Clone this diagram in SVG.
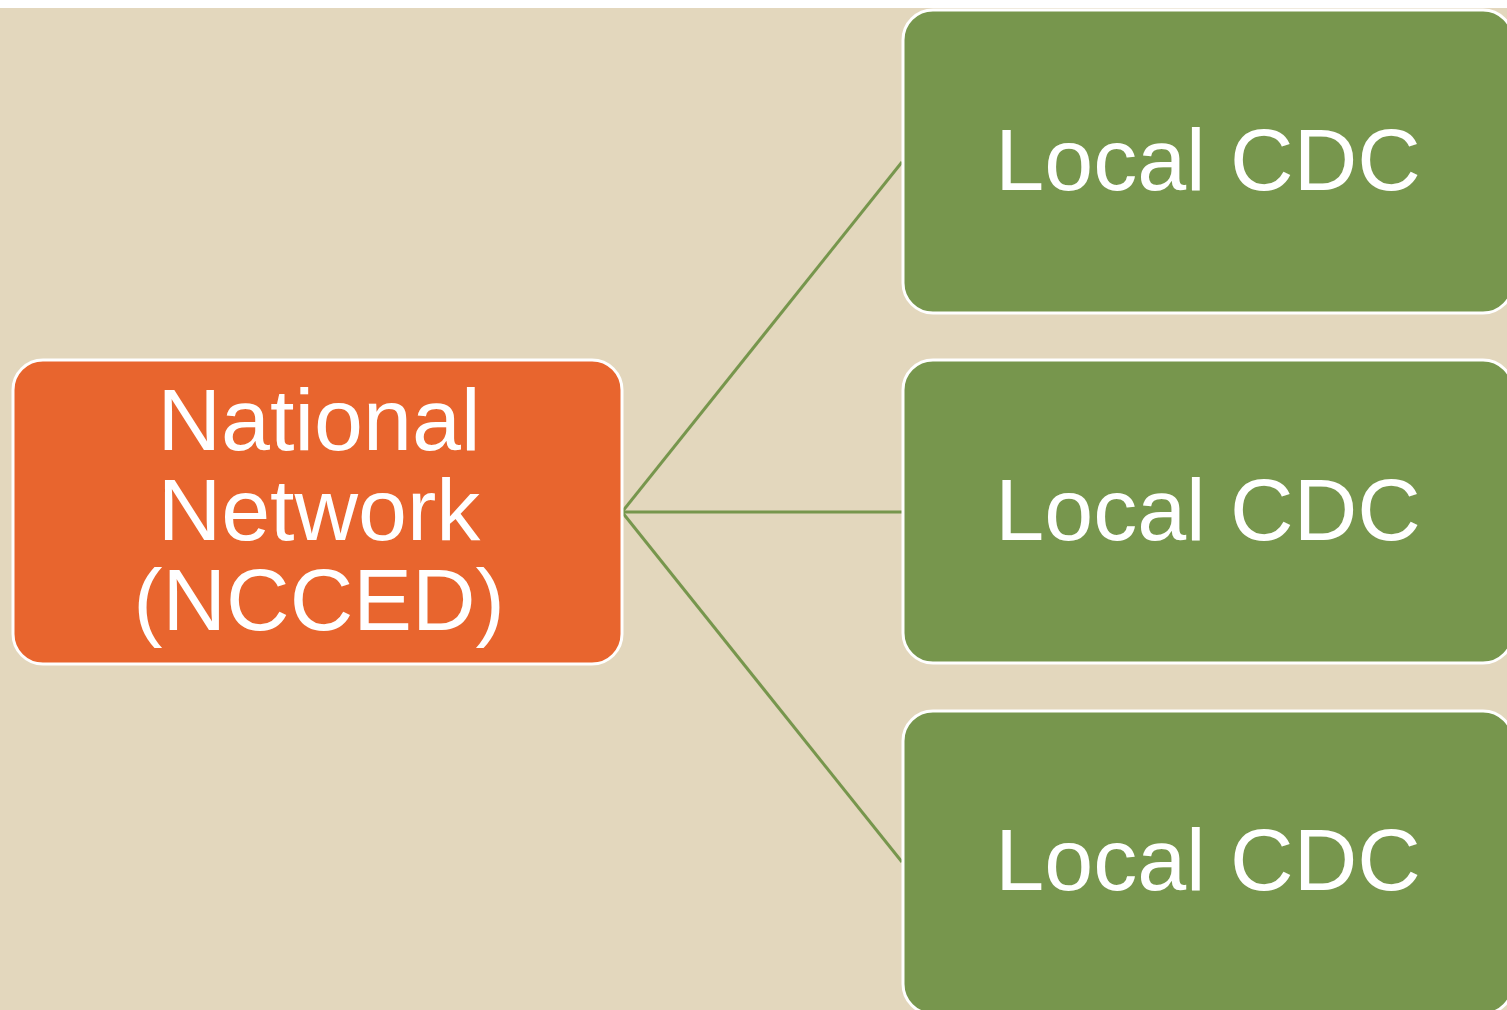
<svg xmlns="http://www.w3.org/2000/svg" width="1507" height="1010" viewBox="0 0 1507 1010">
<style>
.bg{fill:#E3D7BD}
.box{stroke:#FFFFFF;stroke-width:3}
.green{fill:#77964D}
.orange{fill:#E8652E}
.lbl{font-family:"Liberation Sans",Arial,sans-serif;font-size:88px;fill:#FFFFFF;text-anchor:middle}
.conn{stroke:#77964D;stroke-width:3;fill:none}
</style>
<rect x="0" y="0" width="1507" height="1010" fill="#FFFFFF"/>
<rect class="bg" x="0" y="8" width="1507" height="1002"/>
<g id="connectors">
<line class="conn" x1="622" y1="512" x2="902" y2="162"/>
<line class="conn" x1="622" y1="512" x2="902" y2="512"/>
<line class="conn" x1="622" y1="512" x2="902" y2="862"/>
</g>
<g id="national">
<rect class="box orange" x="13" y="360" width="609" height="304" rx="30" ry="30"/>
<text class="lbl" x="319" y="450">National</text>
<text class="lbl" x="319" y="540">Network</text>
<text class="lbl" x="319" y="630">(NCCED)</text>
</g>
<g id="local1">
<rect class="box green" x="903" y="10" width="610" height="303" rx="30" ry="30"/>
<text class="lbl" x="1208" y="190">Local CDC</text>
</g>
<g id="local2">
<rect class="box green" x="903" y="360" width="610" height="303" rx="30" ry="30"/>
<text class="lbl" x="1208" y="540">Local CDC</text>
</g>
<g id="local3">
<rect class="box green" x="903" y="711" width="610" height="303" rx="30" ry="30"/>
<text class="lbl" x="1208" y="890">Local CDC</text>
</g>
</svg>
